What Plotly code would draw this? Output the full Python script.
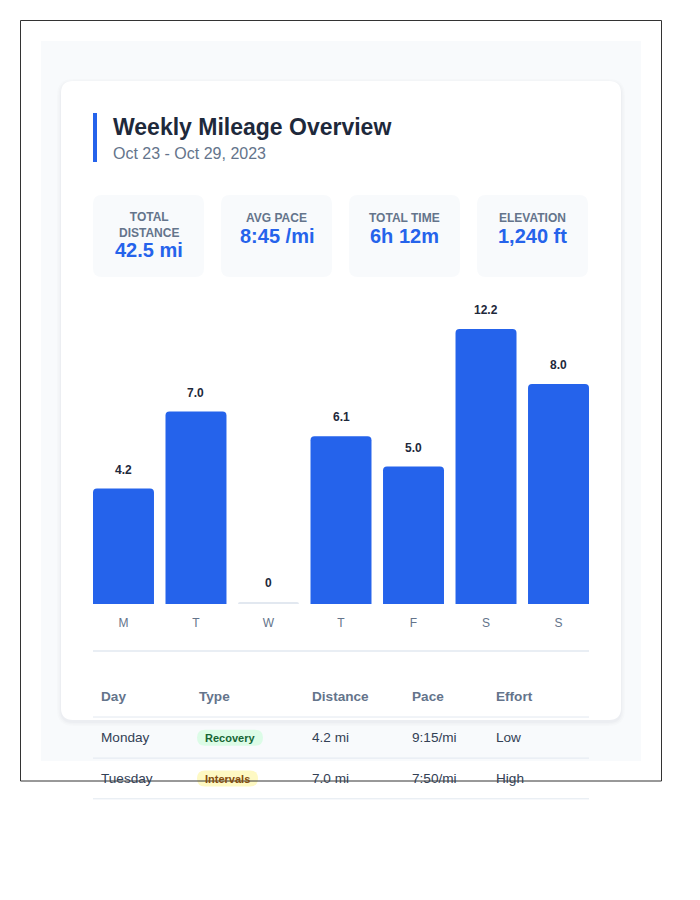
import plotly.graph_objects as go

# ---------------- data ----------------
days = ["M", "T", "W", "T", "F", "S", "S"]
miles = [4.2, 7.0, 0, 6.1, 5.0, 12.2, 8.0]

title_text = "Weekly Mileage Overview"
subtitle_text = "Oct 23 - Oct 29, 2023"

stat_labels = ["TOTAL<br>DISTANCE", "AVG PACE", "TOTAL TIME", "ELEVATION"]
stat_values = ["42.5 mi", "8:45 /mi", "6h 12m", "1,240 ft"]

table_columns = ["Day", "Type", "Distance", "Pace", "Effort"]
table_days = ["Monday", "Tuesday"]
table_types = ["Recovery", "Intervals"]
table_distances = ["4.2 mi", "7.0 mi"]
table_paces = ["9:15/mi", "7:50/mi"]
table_efforts = ["Low", "High"]

# ---------------- style ----------------
FONT = "Liberation Sans, Arial, Helvetica, sans-serif"
BLUE = "#2563eb"
DARK = "#1e293b"
BODY = "#334155"
MUTED = "#64748b"
LINE = "#e2e8f0"
SOFT = "#f8fafc"
BAR_CAP = 10          # a bar fills the chart at 10 mi; longer runs are capped
ZERO_STUB = 0.075     # thin placeholder for rest days
badge_style = {
    "Recovery": dict(bg="#dcfce7", fg="#166534", w=66),
    "Intervals": dict(bg="#fef9c3", fg="#854d0e", w=61),
}

W, H = 700, 900
LEFT_PAD = 2  # annotation box inner padding


def px(x):
    return x / W


def py(y):
    return 1 - y / H


def rrect_path(x0, y0, x1, y1, r):
    pts = [
        ("M", [(x0 + r, y0)]), ("L", [(x1 - r, y0)]), ("Q", [(x1, y0), (x1, y0 + r)]),
        ("L", [(x1, y1 - r)]), ("Q", [(x1, y1), (x1 - r, y1)]), ("L", [(x0 + r, y1)]),
        ("Q", [(x0, y1), (x0, y1 - r)]), ("L", [(x0, y0 + r)]), ("Q", [(x0, y0), (x0 + r, y0)]),
    ]
    s = ""
    for cmd, ps in pts:
        s += cmd + " " + " ".join(f"{px(a):.5f},{py(b):.5f}" for a, b in ps) + " "
    return s + "Z"


shapes = []
annotations = []


def add_rrect(x0, y0, x1, y1, r, fill, layer="below"):
    shapes.append(dict(type="path", path=rrect_path(x0, y0, x1, y1, r), xref="paper", yref="paper",
                       fillcolor=fill, line=dict(width=0), layer=layer))


def add_rect(x0, y0, x1, y1, fill, layer="below"):
    shapes.append(dict(type="rect", xref="paper", yref="paper", x0=px(x0), x1=px(x1), y0=py(y1), y1=py(y0),
                       fillcolor=fill, line=dict(width=0), layer=layer))


def add_hline(x0, x1, y, color, width=1):
    shapes.append(dict(type="line", xref="paper", yref="paper", x0=px(x0), x1=px(x1), y0=py(y), y1=py(y),
                       line=dict(color=color, width=width), layer="below"))


def add_text(x, y, text, size, color, bold=False, xanchor="left"):
    if xanchor == "left":
        x -= LEFT_PAD
    annotations.append(dict(xref="paper", yref="paper", x=px(x), y=py(y), text=f"<b>{text}</b>" if bold else text,
                            showarrow=False, xanchor=xanchor, yanchor="middle",
                            font=dict(family=FONT, size=size, color=color)))


# page background and card (with soft shadow)
add_rect(41, 41, 641, 761, SOFT)
for i, a in enumerate([0.012, 0.016, 0.02]):
    g = 4 - i * 1.5
    add_rrect(61 - g, 81 - g + 2, 621 + g, 720 + g + 2, 12 + g, f"rgba(15,23,42,{a})")
add_rrect(61, 81, 621, 720, 12, "#ffffff")

# header
add_rect(93, 113, 97, 162, BLUE)
add_text(113, 127, title_text, 23, DARK, bold=True)
add_text(113, 153, subtitle_text, 16, MUTED)

# stat cards
box_w, box_gap, box_x0 = 111, 17, 93
for i, (lab, val) in enumerate(zip(stat_labels, stat_values)):
    x0 = box_x0 + i * (box_w + box_gap)
    add_rrect(x0, 195, x0 + box_w, 277, 9, SOFT)
    cx = x0 + box_w / 2
    n_lines = lab.count("<br>") + 1
    add_text(cx, 217.7 + (n_lines - 1) * 7, lab, 12, MUTED, bold=True, xanchor="center")
    add_text(cx, 235.7 + (n_lines - 1) * 14.3, val, 20, BLUE, bold=True, xanchor="center")

# separator under chart
add_hline(93, 589, 651, LINE, 1.5)

# table
col_x = [101, 199, 312, 412, 496]
badge_x0 = 197
for cx, name in zip(col_x, table_columns):
    add_text(cx, 696.5, name, 13.6, MUTED, bold=True)
add_hline(93, 589, 717, LINE, 1)
row_y0, row_h = 737.8, 40.7
for r, (d, t, dist, pace, eff) in enumerate(zip(table_days, table_types, table_distances, table_paces, table_efforts)):
    yc = row_y0 + r * row_h
    add_text(col_x[0], yc, d, 13.6, BODY)
    st = badge_style[t]
    add_rrect(badge_x0, yc - 8, badge_x0 + st["w"], yc + 8, 8, st["bg"])
    add_text(badge_x0 + st["w"] / 2, yc, t, 11, st["fg"], bold=True, xanchor="center")
    add_text(col_x[2], yc, dist, 13.6, BODY)
    add_text(col_x[3], yc, pace, 13.6, BODY)
    add_text(col_x[4], yc, eff, 13.6, BODY)
    add_hline(93, 589, yc + 20.3, LINE, 1)

# outer frame
shapes.append(dict(type="rect", xref="paper", yref="paper", x0=px(20.5), x1=px(661.5), y0=py(781), y1=py(20.5),
                   line=dict(color="#333333", width=1), fillcolor="rgba(0,0,0,0)", layer="above"))

# ---------------- bars ----------------
heights = [min(v, BAR_CAP) if v > 0 else ZERO_STUB for v in miles]
colors = [BLUE if v > 0 else LINE for v in miles]
xs = list(range(len(days)))

fig = go.Figure(go.Bar(x=xs, y=heights, marker=dict(color=colors, cornerradius=4, line=dict(width=0)),
                       hoverinfo="skip"))

for i, v in enumerate(miles):
    annotations.append(dict(x=i, y=heights[i], xref="x", yref="y", text=f"<b>{v:.1f}</b>" if v > 0 else "<b>0</b>",
                            showarrow=False, yanchor="middle", yshift=19,
                            font=dict(family=FONT, size=12, color=DARK)))

bargap = 0.159
fig.update_layout(
    width=W, height=H, margin=dict(l=0, r=0, t=0, b=0),
    paper_bgcolor="#ffffff", plot_bgcolor="rgba(0,0,0,0)",
    bargap=bargap, showlegend=False,
    font=dict(family=FONT),
    xaxis=dict(domain=[px(93), px(589)], range=[-0.5 + bargap / 2, len(days) - 0.5 - bargap / 2],
               tickmode="array", tickvals=xs, ticktext=days, showgrid=False, zeroline=False,
               showline=False, ticks="", ticklabelstandoff=10,
               tickfont=dict(family=FONT, size=12, color=MUTED), fixedrange=True),
    yaxis=dict(domain=[py(604), py(604 - 27.5 * BAR_CAP)], range=[0, BAR_CAP], visible=False, fixedrange=True),
    shapes=shapes, annotations=annotations,
)

fig.write_html("out.html")
